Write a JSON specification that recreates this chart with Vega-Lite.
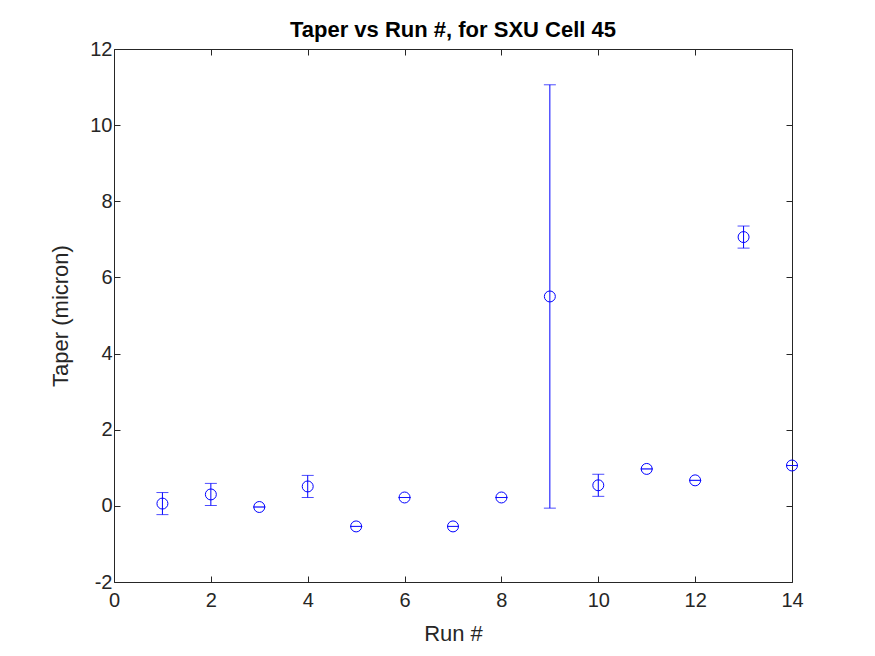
{
  "$schema": "https://vega.github.io/schema/vega-lite/v6.json",
  "width": 678,
  "height": 533,
  "autosize": "none",
  "padding": {"left": 114, "top": 49, "right": 83, "bottom": 74},
  "background": "white",
  "title": {
    "text": "Taper vs Run #, for SXU Cell 45",
    "font": "Liberation Sans",
    "fontSize": 22,
    "fontWeight": "bold",
    "color": "#000000",
    "frame": "group",
    "anchor": "middle",
    "baseline": "alphabetic",
    "offset": -20
  },
  "config": {
    "view": {"stroke": null},
    "axis": {
      "grid": false,
      "domainColor": "#262626",
      "domainWidth": 1,
      "tickColor": "#262626",
      "tickWidth": 1,
      "tickSize": -6,
      "labelColor": "#262626",
      "labelFont": "Liberation Sans",
      "labelFontSize": 20,
      "labelFlush": false,
      "labelOverlap": false,
      "labelExpr": "'' + datum.value",
      "titleColor": "#262626",
      "titleFont": "Liberation Sans",
      "titleFontSize": 22,
      "titleFontWeight": "normal"
    }
  },
  "data": {
    "values": [
      {"run": 1, "taper": 0.06, "lo": -0.23, "hi": 0.35},
      {"run": 2, "taper": 0.30, "lo": 0.01, "hi": 0.59},
      {"run": 3, "taper": -0.03, "lo": -0.03, "hi": -0.03},
      {"run": 4, "taper": 0.51, "lo": 0.22, "hi": 0.80},
      {"run": 5, "taper": -0.54, "lo": -0.54, "hi": -0.54},
      {"run": 6, "taper": 0.22, "lo": 0.22, "hi": 0.22},
      {"run": 7, "taper": -0.54, "lo": -0.54, "hi": -0.54},
      {"run": 8, "taper": 0.22, "lo": 0.22, "hi": 0.22},
      {"run": 9, "taper": 5.50, "lo": -0.06, "hi": 11.06},
      {"run": 10, "taper": 0.54, "lo": 0.25, "hi": 0.83},
      {"run": 11, "taper": 0.97, "lo": 0.97, "hi": 0.97},
      {"run": 12, "taper": 0.67, "lo": 0.67, "hi": 0.67},
      {"run": 13, "taper": 7.06, "lo": 6.77, "hi": 7.35},
      {"run": 14, "taper": 1.06, "lo": 1.06, "hi": 1.06}
    ]
  },
  "resolve": {"axis": {"x": "independent", "y": "independent"}},
  "layer": [
    {
      "mark": {"type": "rule", "color": "#0000FF", "strokeWidth": 1},
      "encoding": {
        "x": {"field": "run", "type": "quantitative",
              "scale": {"domain": [0, 14], "nice": false, "zero": false},
              "axis": {"orient": "bottom", "values": [0, 2, 4, 6, 8, 10, 12, 14], "labelPadding": 14, "title": "Run #", "titleX": 339, "titleY": 58, "titleBaseline": "alphabetic"}},
        "y": {"field": "lo", "type": "quantitative",
              "scale": {"domain": [-2, 12], "nice": false, "zero": false},
              "axis": {"orient": "left", "values": [-2, 0, 2, 4, 6, 8, 10, 12], "labelPadding": 8, "title": "Taper (micron)", "titleX": -47, "titleY": 266.5, "titleBaseline": "alphabetic", "titleAngle": -90}},
        "y2": {"field": "hi"}
      }
    },
    {
      "mark": {"type": "tick", "color": "#0000FF", "orient": "horizontal", "size": 12, "thickness": 1},
      "encoding": {
        "x": {"field": "run", "type": "quantitative",
              "axis": {"orient": "top", "values": [0, 2, 4, 6, 8, 10, 12, 14], "labels": false, "title": null}},
        "y": {"field": "lo", "type": "quantitative",
              "axis": {"orient": "right", "values": [-2, 0, 2, 4, 6, 8, 10, 12], "labels": false, "title": null}}
      }
    },
    {
      "mark": {"type": "tick", "color": "#0000FF", "orient": "horizontal", "size": 12, "thickness": 1},
      "encoding": {
        "x": {"field": "run", "type": "quantitative", "axis": null},
        "y": {"field": "hi", "type": "quantitative", "axis": null}
      }
    },
    {
      "mark": {"type": "point", "shape": "circle", "filled": false, "color": "#0000FF", "strokeWidth": 1, "size": 120, "opacity": 1},
      "encoding": {
        "x": {"field": "run", "type": "quantitative", "axis": null},
        "y": {"field": "taper", "type": "quantitative", "axis": null}
      }
    }
  ]
}
